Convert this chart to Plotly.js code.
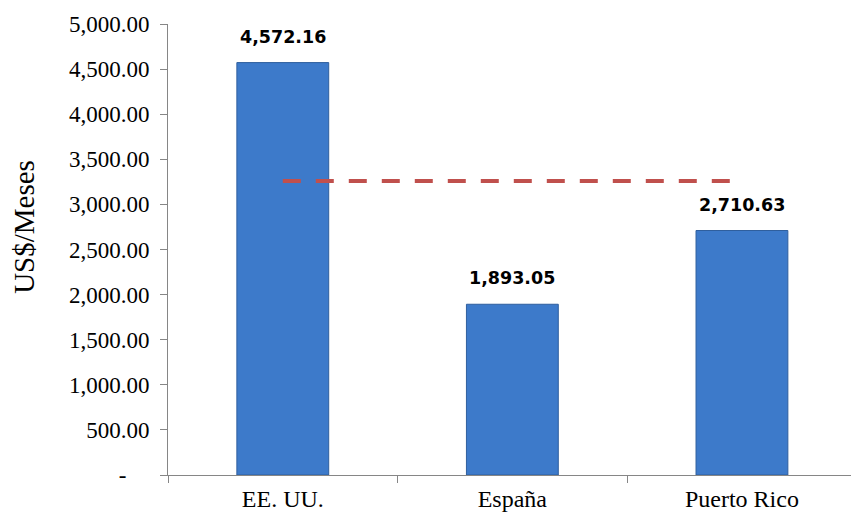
<!DOCTYPE html>
<html>
<head>
<meta charset="utf-8">
<script src="https://cdn.plot.ly/plotly-3.0.1.min.js"></script>
<style>html,body{margin:0;padding:0;background:#fff;}#chart{width:851px;height:513px;}</style>
</head>
<body>
<div id="chart"></div>
<script>
const categories = ["EE. UU.", "España", "Puerto Rico"];
const salaries = [4572.16, 1893.05, 2710.63];
const salaryLabels = ["4,572.16", "1,893.05", "2,710.63"];
const refLineCategories = ["EE. UU.", "Puerto Rico"];
const refLineValues = [3260, 3260];
const yTickValues = [0, 500, 1000, 1500, 2000, 2500, 3000, 3500, 4000, 4500, 5000];
const yTickLabels = ["-\u00a0\u00a0\u00a0\u00a0", "500.00", "1,000.00", "1,500.00", "2,000.00", "2,500.00", "3,000.00", "3,500.00", "4,000.00", "4,500.00", "5,000.00"];
const yTitle = "US$/Meses";

const serif = "Liberation Serif, Times New Roman, serif";

const bars = {
  type: "bar",
  x: categories,
  y: salaries,
  width: 0.4,
  marker: { color: "#3D7ACA", line: { color: "#2F5F9E", width: 1 } },
  hoverinfo: "skip",
  showlegend: false
};

const refLine = {
  type: "scatter",
  mode: "lines",
  x: refLineCategories,
  y: refLineValues,
  line: { color: "#C0504D", width: 4, dash: "18px,15px" },
  hoverinfo: "skip",
  showlegend: false
};

const annotations = categories.map((c, i) => ({
  x: c, y: salaries[i], xref: "x", yref: "y",
  text: "<b>" + salaryLabels[i] + "</b>",
  showarrow: false, yanchor: "bottom", yshift: 14,
  font: { family: "DejaVu Sans, sans-serif", size: 17.5, color: "#000" }
}));
annotations.push({
  xref: "paper", yref: "paper", x: -0.211, y: 0.55,
  xanchor: "center", yanchor: "middle", textangle: -90,
  text: yTitle, showarrow: false,
  font: { family: serif, size: 29, color: "#000" }
});

const layout = {
  width: 851, height: 513,
  margin: { l: 168, r: 0, t: 24, b: 38, pad: 0 },
  paper_bgcolor: "#fff", plot_bgcolor: "#fff",
  xaxis: {
    type: "category",
    range: [-0.5, 2.475],
    showgrid: false, zeroline: false,
    showline: true, linecolor: "#868686", linewidth: 1,
    ticks: "outside", tickson: "boundaries", ticklen: 7, tickcolor: "#868686",
    ticklabelstandoff: 2,
    tickfont: { family: serif, size: 24, color: "#000" }
  },
  yaxis: {
    range: [0, 5000],
    tickvals: yTickValues, ticktext: yTickLabels,
    showgrid: false, zeroline: false,
    showline: true, linecolor: "#868686", linewidth: 1,
    ticks: "outside", ticklen: 7, tickcolor: "#868686",
    ticklabelstandoff: 6,
    tickfont: { family: serif, size: 23, color: "#000" }
  },
  annotations: annotations
};

Plotly.newPlot("chart", [bars, refLine], layout, { staticPlot: true, displayModeBar: false });
</script>
</body>
</html>
